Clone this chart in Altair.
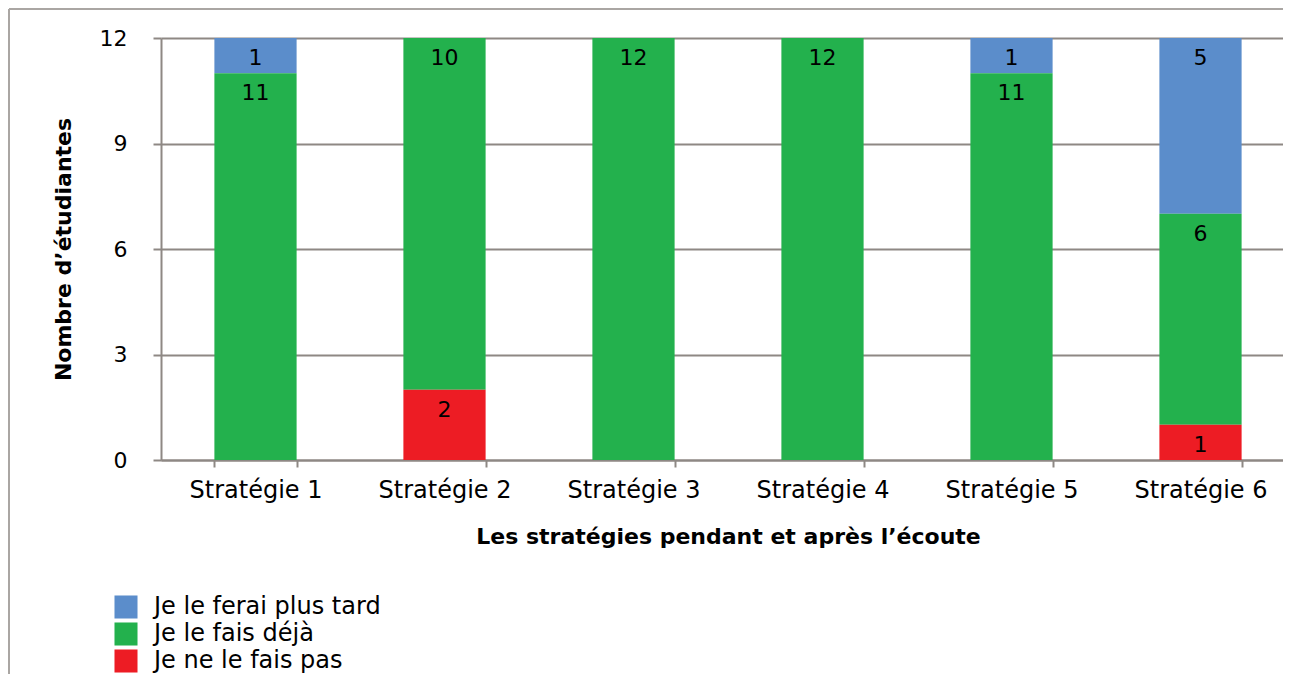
import altair as alt
import pandas as pd

categories = ["Stratégie 1", "Stratégie 2", "Stratégie 3", "Stratégie 4", "Stratégie 5", "Stratégie 6"]
series_names = ["Je le ferai plus tard", "Je le fais déjà", "Je ne le fais pas"]
plus_tard = [1, 0, 0, 0, 1, 5]
deja = [11, 10, 12, 12, 11, 6]
pas = [0, 2, 0, 0, 0, 1]
stack_order = [2, 1, 0]  # red bottom, green middle, blue top
colors = ["#5B8DCB", "#23B14D", "#ED1C24"]
y_ticks = [0, 3, 6, 9, 12]

rows = []
for s_name, vals, o in zip(series_names, [plus_tard, deja, pas], stack_order):
    for c, v in zip(categories, vals):
        if v > 0:
            rows.append({"cat": c, "serie": s_name, "value": v, "ord": o})
df = pd.DataFrame(rows)

FONT = "DejaVu Sans"
GRID = "#8e8884"
FRAME = "#aaa6a3"

base = alt.Chart(df).transform_stack(
    stack="value", groupby=["cat"], as_=["y0", "y1"],
    sort=[alt.SortField("ord", order="ascending")]
)

x_enc = alt.X("cat:N", sort=categories,
              scale=alt.Scale(paddingInner=0.565, paddingOuter=0.2825, range=[0, 1134]),
              axis=alt.Axis(title="Les stratégies pendant et après l’écoute",
                            labelAngle=0, tickBand="extent", labelFontSize=24))

bars = base.mark_bar().encode(
    x=x_enc,
    y=alt.Y("y1:Q", scale=alt.Scale(domain=[0, 12], nice=False),
            axis=alt.Axis(title="Nombre d’étudiantes", values=y_ticks, grid=True)),
    y2="y0:Q",
    color=alt.Color("serie:N",
                    scale=alt.Scale(domain=series_names, range=colors),
                    legend=alt.Legend(title=None, orient="none", legendX=-47, legendY=557,
                                      symbolType="square", symbolSize=530,
                                      symbolStrokeWidth=0, labelFontSize=24,
                                      labelFont=FONT, labelOffset=16, rowPadding=3,
                                      labelLimit=0, labelColor="black")),
)

labels = base.mark_text(dy=20, baseline="middle", align="center", fontSize=22,
                        font=FONT, color="black").encode(
    x=alt.X("cat:N", sort=categories),
    y=alt.Y("y1:Q"),
    text=alt.Text("value:Q"),
)

frame_df = pd.DataFrame({"k": [0]})
frame_left = alt.Chart(frame_df).mark_rule(stroke=FRAME, strokeWidth=2).encode(
    x=alt.value(-152), y=alt.value(-29), y2=alt.value(900)
)
frame_top = alt.Chart(frame_df).mark_rule(stroke=FRAME, strokeWidth=2).encode(
    x=alt.value(-152), x2=alt.value(1300), y=alt.value(-29)
)

chart = alt.layer(frame_left, frame_top, bars, labels).properties(
    width=1122, height=422,
    autosize=alt.AutoSizeParams(type="none"),
    padding={"left": 153, "top": 30, "right": 0, "bottom": 214},
).configure_view(stroke=None).configure_axis(
    labelFont=FONT, titleFont=FONT, labelFontSize=22, titleFontSize=22,
    labelColor="black", titleColor="black", titleFontWeight="bold",
    domainColor=GRID, domainWidth=2, tickColor=GRID, tickWidth=2,
    gridColor=GRID, gridWidth=2,
).configure_axisX(
    tickSize=7, labelPadding=11, titlePadding=24, grid=False
).configure_axisY(
    tickSize=8, labelPadding=26, titlePadding=24
)

chart.save("out.html", embed_options={"renderer": "svg", "actions": False})
